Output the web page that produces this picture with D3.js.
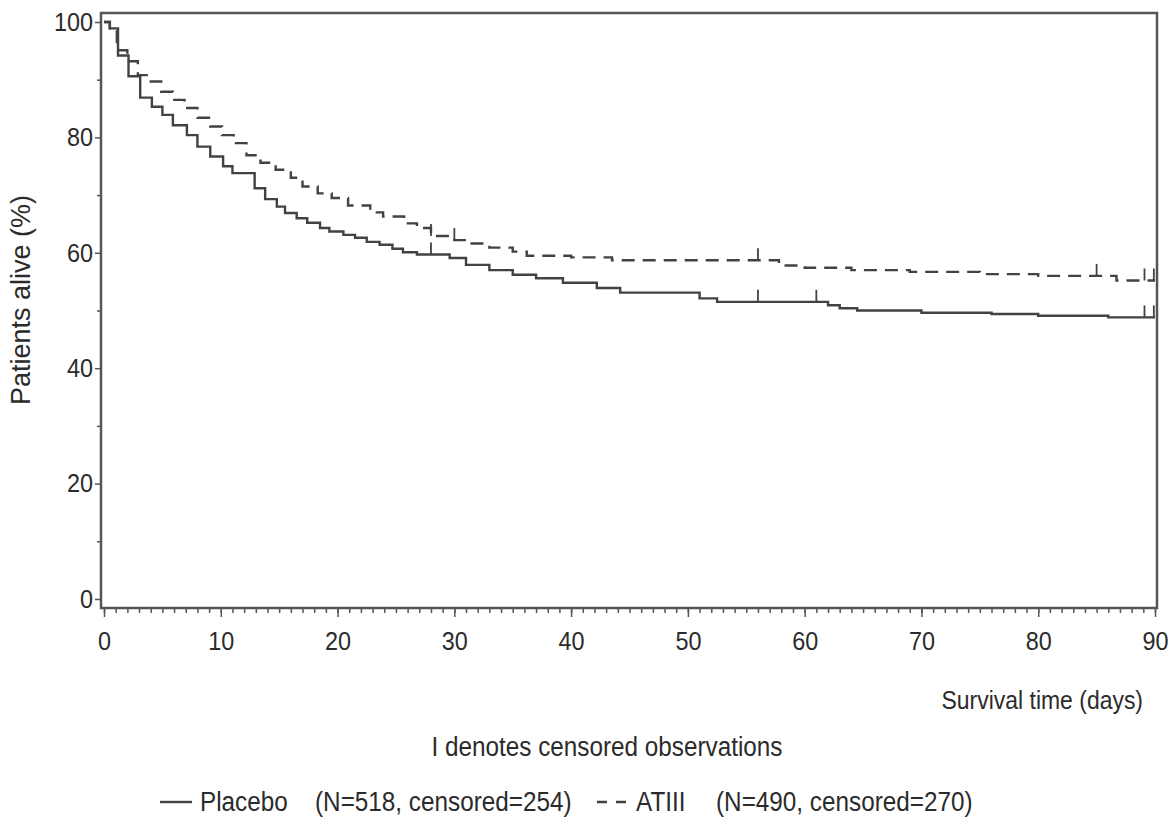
<!DOCTYPE html>
<html>
<head>
<meta charset="utf-8">
<script src="https://cdn.jsdelivr.net/npm/d3@7"></script>
<style>
  body { margin: 0; background: #fff; }
  text { font-family: "Liberation Sans", Arial, sans-serif; fill: #2b2b2b; }
</style>
</head>
<body>
<div id="chart"></div>
<script>
// Kaplan-Meier steps (time in days, survival in %)
let placeboTime = [0, 0.5, 1.2, 2.1, 3.1, 4.1, 5.0, 5.9, 7.1, 8.0, 9.1, 10.2, 11.0, 12.9, 13.8, 14.8, 15.5, 16.5, 17.4, 18.5, 19.3, 20.5, 21.5, 22.5, 23.6, 24.7, 25.6, 26.8, 29.6, 31.0, 33.0, 35.0, 37.0, 39.3, 42.2, 44.2, 51.0, 52.5, 62.0, 63.0, 64.5, 70.0, 76.0, 80.0, 86.0];
let placeboSurv = [100, 98.9, 94.2, 90.6, 86.9, 85.3, 83.9, 82.1, 80.4, 78.4, 76.7, 75.0, 73.8, 71.2, 69.3, 68.0, 66.9, 66.0, 65.2, 64.3, 63.7, 63.1, 62.6, 61.9, 61.4, 60.7, 60.1, 59.7, 59.1, 57.9, 57.0, 56.2, 55.6, 54.8, 53.9, 53.1, 52.1, 51.5, 50.9, 50.4, 50.0, 49.6, 49.4, 49.1, 48.8];
let placeboCensor = [28, 56, 61, 89.1, 89.9];

let atiiiTime = [0, 0.5, 1.1, 2.0, 2.9, 3.8, 4.9, 5.9, 6.9, 8.0, 9.1, 10.1, 11.1, 12.2, 13.4, 14.7, 16.0, 17.0, 18.3, 19.5, 20.9, 22.8, 23.9, 25.7, 26.8, 28.0, 30.0, 31.3, 33.0, 35.0, 36.2, 40.0, 43.5, 57.8, 60.0, 64.0, 69.0, 75.0, 80.0, 86.7];
let atiiiSurv = [100, 98.9, 95.1, 93.2, 90.8, 89.7, 87.9, 86.5, 85.1, 83.4, 81.9, 80.4, 79.0, 76.9, 75.6, 74.4, 73.0, 71.5, 70.3, 69.5, 68.2, 67.0, 66.3, 65.1, 64.3, 62.9, 62.2, 61.6, 60.9, 60.2, 59.5, 59.2, 58.7, 57.8, 57.4, 57.0, 56.7, 56.3, 56.0, 55.2];
let atiiiCensor = [28, 30, 56, 85, 89.1, 89.9];

let xMajor = [0, 10, 20, 30, 40, 50, 60, 70, 80, 90];
let yMajor = [0, 20, 40, 60, 80, 100];

let svgWidth = 1170;
let svgHeight = 817;
let lineColor = "#424242";

let svg = d3.select("#chart")
  .append("svg")
  .attr("width", svgWidth)
  .attr("height", svgHeight);

// scales
let x = d3.scaleLinear().domain([0, 90]).range([104, 1155]);
let y = d3.scaleLinear().domain([0, 100]).range([599, 22]);

// frame
svg.append("rect")
  .attr("x", 101).attr("y", 13)
  .attr("width", 1056).attr("height", 595)
  .attr("fill", "none")
  .attr("stroke", "#555")
  .attr("stroke-width", 2.5);

// bottom axis: minor + major ticks
let xMinorAxis = d3.axisBottom(x).tickValues(d3.range(0, 91, 1)).tickSize(5).tickFormat("");
let xMajorAxis = d3.axisBottom(x).tickValues(xMajor).tickSize(9).tickPadding(15);

let gxMinor = svg.append("g").attr("transform", "translate(0,608)").call(xMinorAxis);
let gx = svg.append("g").attr("transform", "translate(0,608)").call(xMajorAxis);

// left axis
let yMinorAxis = d3.axisLeft(y).tickValues(d3.range(10, 100, 20)).tickSize(4).tickFormat("");
let yMajorAxis = d3.axisLeft(y).tickValues(yMajor).tickSize(6).tickPadding(3);

let gyMinor = svg.append("g").attr("transform", "translate(101,0)").call(yMinorAxis);
let gy = svg.append("g").attr("transform", "translate(101,0)").call(yMajorAxis);

[gxMinor, gx, gyMinor, gy].forEach(g => {
  g.select(".domain").remove();
  g.selectAll("line").attr("stroke", "#555").attr("stroke-width", 1.5);
});

gx.selectAll("text")
  .attr("font-size", 26)
  .attr("fill", "#2b2b2b")
  .attr("transform", "scale(0.9,1)");

gy.selectAll("text")
  .attr("font-size", 26)
  .attr("fill", "#2b2b2b")
  .attr("transform", "scale(0.9,1)");

// curves
function stepData(times, surv) {
  let pts = times.map((t, i) => [t, surv[i]]);
  pts.push([90, surv[surv.length - 1]]);
  return pts;
}

function survAt(times, surv, t) {
  let v = surv[0];
  for (let i = 0; i < times.length; i++) {
    if (times[i] <= t) v = surv[i];
  }
  return v;
}

let line = d3.line()
  .x(d => x(d[0]))
  .y(d => y(d[1]))
  .curve(d3.curveStepAfter);

svg.append("path")
  .datum(stepData(placeboTime, placeboSurv))
  .attr("d", line)
  .attr("fill", "none")
  .attr("stroke", lineColor)
  .attr("stroke-width", 2.4);

svg.append("path")
  .datum(stepData(atiiiTime, atiiiSurv))
  .attr("d", line)
  .attr("fill", "none")
  .attr("stroke", lineColor)
  .attr("stroke-width", 2.4)
  .attr("stroke-dasharray", "13,8");

// censor marks
svg.append("g")
  .selectAll("line")
  .data(placeboCensor)
  .enter()
  .append("line")
  .attr("x1", d => x(d)).attr("x2", d => x(d))
  .attr("y1", d => y(survAt(placeboTime, placeboSurv, d)))
  .attr("y2", d => y(survAt(placeboTime, placeboSurv, d)) - 12)
  .attr("stroke", lineColor)
  .attr("stroke-width", 1.8);

svg.append("g")
  .selectAll("line")
  .data(atiiiCensor)
  .enter()
  .append("line")
  .attr("x1", d => x(d)).attr("x2", d => x(d))
  .attr("y1", d => y(survAt(atiiiTime, atiiiSurv, d)))
  .attr("y2", d => y(survAt(atiiiTime, atiiiSurv, d)) - 12)
  .attr("stroke", lineColor)
  .attr("stroke-width", 1.8);

// axis titles
svg.append("text")
  .attr("transform", "translate(30,300) rotate(-90)")
  .attr("text-anchor", "middle")
  .attr("font-size", 27)
  .text("Patients alive (%)");

svg.append("text")
  .attr("transform", "translate(1143,709) scale(0.9,1)")
  .attr("text-anchor", "end")
  .attr("font-size", 25.5)
  .text("Survival time (days)");

svg.append("text")
  .attr("transform", "translate(607,756) scale(0.9,1)")
  .attr("text-anchor", "middle")
  .attr("font-size", 27)
  .text("I denotes censored observations");

// legend
let legendY = 802;
svg.append("line")
  .attr("x1", 160).attr("x2", 192)
  .attr("y1", legendY).attr("y2", legendY)
  .attr("stroke", lineColor).attr("stroke-width", 2.4);
svg.append("line")
  .attr("x1", 597).attr("x2", 628)
  .attr("y1", legendY).attr("y2", legendY)
  .attr("stroke", lineColor).attr("stroke-width", 2.4)
  .attr("stroke-dasharray", "10,9");

let legendItems = [
  {x: 200, label: "Placebo"},
  {x: 315, label: "(N=518, censored=254)"},
  {x: 636, label: "ATIII"},
  {x: 716, label: "(N=490, censored=270)"}
];
svg.append("g")
  .selectAll("text")
  .data(legendItems)
  .enter()
  .append("text")
  .attr("transform", d => `translate(${d.x},${legendY + 9}) scale(0.9,1)`)
  .attr("font-size", 27)
  .text(d => d.label);
</script>
</body>
</html>
